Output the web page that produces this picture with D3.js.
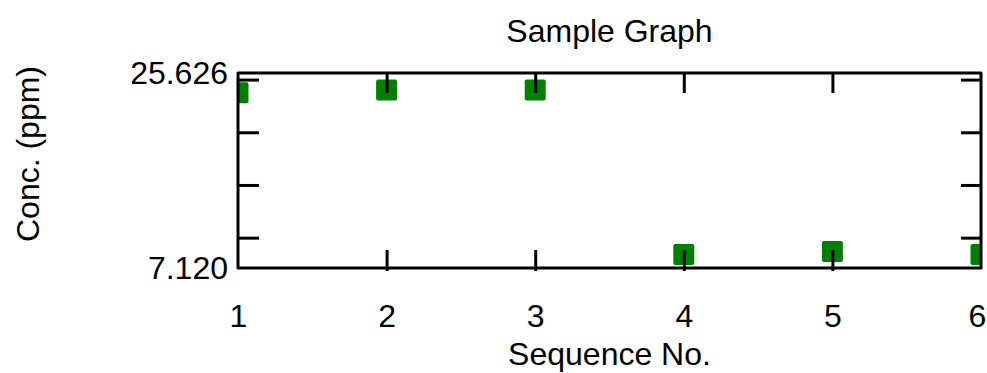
<!DOCTYPE html>
<html>
<head>
<meta charset="utf-8">
<script src="https://cdn.jsdelivr.net/npm/d3@7"></script>
<style>
  body { margin: 0; background: #fff; }
  text { font-family: "Liberation Sans", Arial, sans-serif; fill: #000; }
</style>
</head>
<body>
<div id="chart"></div>
<script>
const sequenceNo = [1, 2, 3, 4, 5, 6];
const concentration = [23.75, 24.01, 24.01, 8.40, 8.69, 8.40];
const xTickValues = [1, 2, 3, 4, 5, 6];
const yLabelTicks = [7.120, 25.626];
const yMinorTicks = [10, 15, 20, 25];

const width = 987;
const height = 373;
const margin = { top: 73, right: 6, bottom: 105, left: 238 };
const plotW = width - margin.left - margin.right;
const plotH = height - margin.top - margin.bottom;
const fontSize = 32;

const svg = d3.select('#chart')
  .append('svg')
  .attr('width', width)
  .attr('height', height);

const x = d3.scaleLinear().domain([1, 6]).range([0, plotW]);
const y = d3.scaleLinear().domain([7.120, 25.626]).range([plotH, 0]);

svg.append('defs')
  .append('clipPath')
  .attr('id', 'plot-clip')
  .append('rect')
  .attr('width', plotW)
  .attr('height', plotH);

const g = svg.append('g')
  .attr('transform', `translate(${margin.left},${margin.top})`);

// points first so the frame sits on top
g.append('g')
  .attr('clip-path', 'url(#plot-clip)')
  .selectAll('rect')
  .data(sequenceNo)
  .enter()
  .append('rect')
  .attr('x', (d) => x(d) - 10.5)
  .attr('y', (d, i) => y(concentration[i]) - 10.5)
  .attr('width', 21)
  .attr('height', 21)
  .attr('rx', 2)
  .attr('fill', '#008000');

const styleAxis = (sel) => {
  sel.select('.domain').remove();
  sel.selectAll('.tick line').attr('stroke', '#000').attr('stroke-width', 3);
  sel.selectAll('.tick text').attr('font-size', fontSize).attr('font-family', '"Liberation Sans", Arial, sans-serif');
};

// minor y ticks, left and right (inward)
g.append('g')
  .call(d3.axisLeft(y).tickValues(yMinorTicks).tickSize(-21).tickFormat(''))
  .call(styleAxis);
g.append('g')
  .attr('transform', `translate(${plotW},0)`)
  .call(d3.axisRight(y).tickValues(yMinorTicks).tickSize(-20).tickFormat(''))
  .call(styleAxis);

// y labels at the ends only
g.append('g')
  .call(d3.axisLeft(y).tickValues(yLabelTicks).tickSize(0).tickPadding(10).tickFormat(d3.format('.3f')))
  .call(styleAxis);

// top x ticks (inward)
g.append('g')
  .call(d3.axisTop(x).tickValues(xTickValues.slice(1, -1)).tickSize(-20).tickFormat(''))
  .call(styleAxis);

// bottom x ticks cross the frame
const bottomAxis = g.append('g')
  .attr('transform', `translate(0,${plotH})`)
  .call(d3.axisBottom(x).tickValues(xTickValues).tickSize(3).tickPadding(33).tickFormat(d3.format('d')))
  .call(styleAxis);
bottomAxis.selectAll('.tick line')
  .attr('y1', -18)
  .attr('display', (d) => (d === 1 || d === 6) ? 'none' : null);
// last label is nudged left so it stays inside the picture
bottomAxis.selectAll('.tick text')
  .attr('dx', (d) => d === 6 ? -4 : 0);

// frame
g.append('rect')
  .attr('width', plotW)
  .attr('height', plotH)
  .attr('fill', 'none')
  .attr('stroke', '#000')
  .attr('stroke-width', 3)
  .attr('stroke-linejoin', 'round');

svg.append('text')
  .attr('x', margin.left + plotW / 2)
  .attr('y', 42)
  .attr('text-anchor', 'middle')
  .attr('font-size', fontSize)
  .text('Sample Graph');

svg.append('text')
  .attr('x', margin.left + plotW / 2)
  .attr('y', 365)
  .attr('text-anchor', 'middle')
  .attr('font-size', fontSize)
  .text('Sequence No.');

svg.append('text')
  .attr('transform', 'translate(39,154) rotate(-90)')
  .attr('text-anchor', 'middle')
  .attr('font-size', fontSize)
  .text('Conc. (ppm)');
</script>
</body>
</html>
